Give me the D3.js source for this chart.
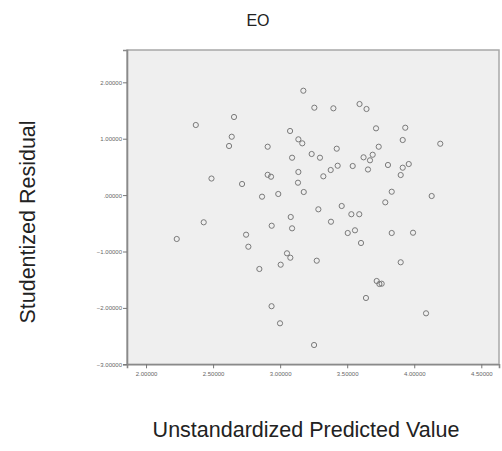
<!DOCTYPE html>
<html>
<head>
<meta charset="utf-8">
<script src="https://cdn.jsdelivr.net/npm/d3@7"></script>
<style>
  html, body { margin: 0; padding: 0; background: #fff; }
  svg { display: block; font-family: "Liberation Sans", Arial, sans-serif; }
</style>
</head>
<body>
<svg id="chart" width="502" height="451"></svg>
<script>
// Residual plot for EO: predicted value vs studentized residual
const chartTitle = "EO";
const xTitle = "Unstandardized Predicted Value";
const yTitle = "Studentized Residual";

const predicted = [
  2.371, 2.488, 2.430, 2.229, 3.173, 3.255, 3.397, 3.592, 3.644, 2.656,
  3.074, 2.639, 3.136, 3.165, 2.619, 2.907, 3.422, 3.235, 3.089, 3.297,
  3.622, 3.690, 3.670, 3.541, 3.429, 3.377, 3.655, 3.136, 3.322, 2.907,
  2.932, 2.716, 3.133, 2.986, 2.865, 3.176, 3.285, 3.459, 3.531, 3.590,
  3.079, 3.379, 2.937, 3.089, 3.504, 3.558, 2.746, 3.603, 2.763, 3.051,
  3.076, 3.004, 3.273, 2.845, 3.640, 2.936, 3.715, 3.933, 3.914, 4.194,
  3.735, 3.804, 3.959, 3.914, 3.899, 3.832, 4.130, 3.784, 3.832, 3.991,
  3.899, 3.720, 3.740, 3.757, 4.088, 2.999, 3.253
];
const residual = [
  1.243, 0.294, -0.482, -0.778, 1.851, 1.550, 1.539, 1.615, 1.527, 1.385,
  1.137, 1.035, 0.989, 0.918, 0.871, 0.858, 0.823, 0.729, 0.663, 0.663,
  0.670, 0.716, 0.617, 0.516, 0.521, 0.445, 0.454, 0.410, 0.333, 0.360,
  0.326, 0.197, 0.220, 0.020, -0.028, 0.055, -0.252, -0.193, -0.339, -0.339,
  -0.388, -0.472, -0.543, -0.589, -0.672, -0.624, -0.702, -0.849, -0.915, -1.032,
  -1.110, -1.234, -1.163, -1.310, -1.824, -1.970, 1.184, 1.195, 0.977, 0.911,
  0.858, 0.534, 0.551, 0.486, 0.356, 0.060, -0.016, -0.128, -0.672, -0.667,
  -1.191, -1.523, -1.576, -1.571, -2.096, -2.273, -2.658
];
const xTicks = [2.0, 2.5, 3.0, 3.5, 4.0, 4.5];
const yTicks = [-3, -2, -1, 0, 1, 2];

const svg = d3.select("#chart");
const plot = { left: 127, right: 499, top: 50, bottom: 364.3 };

const x = d3.scaleLinear().domain([1.858, 4.632]).range([plot.left, plot.right]);
const y = d3.scaleLinear().domain([-3, 2.573]).range([plot.bottom, plot.top]);

// SPSS-style numeric format: five decimals, no leading zero for 0
const fmt = v => {
  const s = d3.format(".5f")(v);
  return s === "0.00000" ? ".00000" : s;
};

// plot area background
svg.append("rect")
  .attr("x", plot.left).attr("y", plot.top)
  .attr("width", plot.right - plot.left).attr("height", plot.bottom - plot.top)
  .attr("fill", "#efefef")
  .attr("stroke", "#a8a8a8")
  .attr("stroke-width", 1.5);

// axes
const xAxis = d3.axisBottom(x).tickValues(xTicks).tickFormat(fmt).tickSize(4).tickPadding(3);
const yAxis = d3.axisLeft(y).tickValues(yTicks).tickFormat(fmt).tickSize(4).tickPadding(1);

const gx = svg.append("g").attr("transform", `translate(0,${plot.bottom})`).call(xAxis);
const gy = svg.append("g").attr("transform", `translate(${plot.left},0)`).call(yAxis);

[gx, gy].forEach(g => {
  g.select(".domain").attr("stroke", "#8a8a8a").attr("stroke-width", 1.6);
  g.selectAll(".tick line").attr("stroke", "#777").attr("stroke-width", 1);
  g.selectAll(".tick text")
    .attr("fill", "#666")
    .style("font-size", "6px")
    .style("font-family", "'Liberation Sans', Arial, sans-serif");
});

// points
svg.append("g")
  .selectAll("circle")
  .data(d3.zip(predicted, residual))
  .join("circle")
  .attr("cx", d => x(d[0]))
  .attr("cy", d => y(d[1]))
  .attr("r", 2.6)
  .attr("fill", "none")
  .attr("stroke", "#7a7a7a")
  .attr("stroke-width", 1);

// titles
svg.append("text")
  .attr("x", 258).attr("y", 26)
  .attr("text-anchor", "middle")
  .style("font-size", "16px")
  .attr("fill", "#222")
  .text(chartTitle);

svg.append("text")
  .attr("x", 306).attr("y", 437)
  .attr("text-anchor", "middle")
  .style("font-size", "21.5px")
  .attr("fill", "#222")
  .text(xTitle);

svg.append("text")
  .attr("transform", "translate(35,222) rotate(-90)")
  .attr("text-anchor", "middle")
  .style("font-size", "21.5px")
  .attr("fill", "#222")
  .text(yTitle);
</script>
</body>
</html>
